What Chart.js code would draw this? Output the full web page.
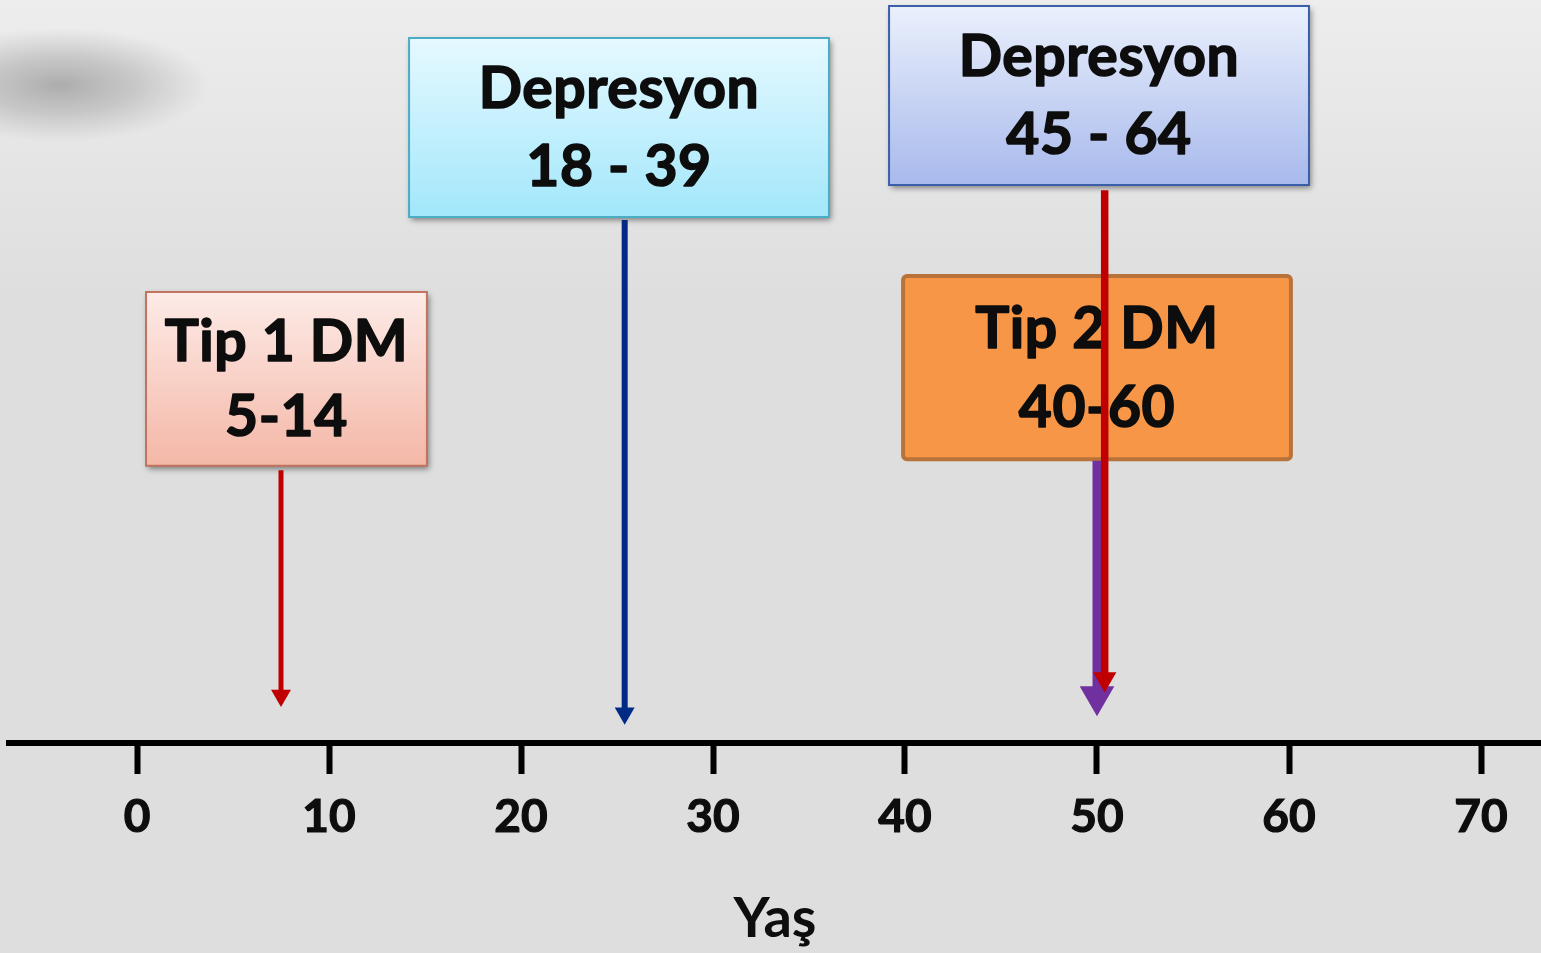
<!DOCTYPE html>
<html>
<head>
<meta charset="utf-8">
<script src="https://cdn.jsdelivr.net/npm/chart.js@4.4.0/dist/chart.umd.min.js"></script>
<style>
  html, body { margin: 0; padding: 0; background: #dedede; }
  #wrap { width: 1541px; height: 953px; }
</style>
</head>
<body>
<div id="wrap"><canvas id="timeline"></canvas></div>
<script>
// values
const tickValues = [0, 10, 20, 30, 40, 50, 60, 70];
const axisTitle = 'Yaş';
const boxLabels = [
    ['Tip 1 DM', '5-14'],
    ['Depresyon', '18 - 39'],
    ['Depresyon', '45 - 64'],
    ['Tip 2 DM', '40-60']
];
// arrows: age where they point, top of the shaft and head position (height above the axis, 0-100)
const arrowAges = [7.5, 25.4, 50.4, 50.0];
const arrowTops = [36.7, 70.4, 74.4, 38.0];
const arrowEnds = [6.4, 4.0, 8.6, 6.3];

// layout and look of the boxes (x in age units, y in height units)
const boxFrames = [
    { x0: 0.47, x1: 15.1, y0: 60.7, y1: 37.3, top: '#fdebe7', bottom: '#f4b7a7', border: '#c0735f', bw: 2, shadow: true },
    { x0: 14.17, x1: 36.04, y0: 94.9, y1: 70.8, top: '#e6f9ff', bottom: '#a2e7fb', border: '#4bacc6', bw: 2, shadow: true },
    { x0: 39.17, x1: 61.04, y0: 99.2, y1: 75.1, top: '#eaf0fc', bottom: '#a8b9ec', border: '#3a5ea8', bw: 2, shadow: true },
    { x0: 39.9, x1: 60.1, y0: 62.85, y1: 38.2, top: '#f79646', bottom: '#f79646', border: '#b8733a', bw: 4, shadow: false }
];
const arrowColors = ['#c00000', '#002b85', '#c00000', '#7030a0'];
const arrowWidths = [5, 6, 7.5, 9];
const arrowHeads = [11.5, 11.5, 13.5, 20];
const arrowOrder = [2, 2, 0, 1];

const FONT = 'Lato, "Open Sans", sans-serif';

const backgroundPlugin = {
    id: 'slideBackground',
    beforeDraw(chart) {
        const { ctx, width, height } = chart;
        ctx.save();
        const g = ctx.createLinearGradient(0, 0, 0, 300);
        g.addColorStop(0, '#ededed');
        g.addColorStop(1, '#dedede');
        ctx.fillStyle = g;
        ctx.fillRect(0, 0, width, height);
        // blurred dark smudge in the top left corner
        ctx.translate(60, 85);
        ctx.scale(1, 0.38);
        const r = ctx.createRadialGradient(0, 0, 0, 0, 0, 150);
        r.addColorStop(0, 'rgba(140,140,140,0.65)');
        r.addColorStop(0.5, 'rgba(150,150,150,0.4)');
        r.addColorStop(1, 'rgba(160,160,160,0)');
        ctx.fillStyle = r;
        ctx.beginPath();
        ctx.arc(0, 0, 150, 0, Math.PI * 2);
        ctx.fill();
        ctx.restore();
    }
};

// heavier text, closer to the slide's bold face
const boldText = (ctx, text, x, y) => {
    ctx.fillText(text, x, y);
    ctx.strokeText(text, x, y);
};

const boxPlugin = {
    id: 'labelBoxes',
    beforeDatasetsDraw(chart) {
        const { ctx, scales: { x, y } } = chart;
        boxFrames.forEach((f, i) => {
            const l = x.getPixelForValue(f.x0), r = x.getPixelForValue(f.x1);
            const t = y.getPixelForValue(f.y0), b = y.getPixelForValue(f.y1);
            ctx.save();
            const g = ctx.createLinearGradient(0, t, 0, b);
            g.addColorStop(0, f.top);
            g.addColorStop(1, f.bottom);
            if (f.shadow) {
                ctx.shadowColor = 'rgba(0,0,0,0.45)';
                ctx.shadowBlur = 6;
                ctx.shadowOffsetX = 2;
                ctx.shadowOffsetY = 3;
            }
            ctx.fillStyle = g;
            ctx.beginPath();
            ctx.roundRect(l, t, r - l, b - t, f.shadow ? 0 : 4);
            ctx.fill();
            ctx.shadowColor = 'transparent';
            ctx.lineWidth = f.bw;
            ctx.strokeStyle = f.border;
            ctx.stroke();

            ctx.fillStyle = '#0d0d0d';
            ctx.strokeStyle = '#0d0d0d';
            ctx.lineWidth = 1.6;
            ctx.lineJoin = 'round';
            ctx.font = 'bold 57px ' + FONT;
            ctx.letterSpacing = '0.6px';
            ctx.textAlign = 'center';
            ctx.textBaseline = 'middle';
            const cx = (l + r) / 2, h = b - t;
            boldText(ctx, boxLabels[i][0], cx, t + h * 0.29);
            boldText(ctx, boxLabels[i][1], cx, t + h * 0.725);
            ctx.restore();
        });
    }
};

const datasets = arrowAges.map((age, i) => ({
    type: 'line',
    data: [{ x: age, y: arrowTops[i] }, { x: age, y: arrowEnds[i] }],
    borderColor: arrowColors[i],
    borderWidth: arrowWidths[i],
    borderCapStyle: 'butt',
    pointStyle: 'triangle',
    rotation: 180,
    pointRadius: [0, arrowHeads[i]],
    pointBackgroundColor: arrowColors[i],
    pointBorderWidth: 0,
    order: arrowOrder[i],
    clip: false
}));

new Chart(document.getElementById('timeline'), {
    type: 'line',
    data: { datasets },
    plugins: [backgroundPlugin, boxPlugin],
    options: {
        responsive: true,
        maintainAspectRatio: false,
        animation: false,
        events: [],
        layout: { autoPadding: false, padding: { left: 9, right: 0, top: 0, bottom: 0 } },
        plugins: { legend: { display: false }, tooltip: { enabled: false } },
        scales: {
            x: {
                type: 'linear',
                min: -128 / 19.2,
                max: 1404 / 19.2,
                afterBuildTicks: (scale) => { scale.ticks = tickValues.map(v => ({ value: v })); },
                grid: { drawOnChartArea: false, drawTicks: true, tickLength: 31, tickWidth: 6, tickColor: '#000' },
                border: { display: true, width: 6, color: '#000' },
                ticks: {
                    color: '#0d0d0d',
                    textStrokeColor: '#0d0d0d',
                    textStrokeWidth: 1.2,
                    padding: 16,
                    maxRotation: 0,
                    font: { family: FONT, size: 46, weight: 'bold' }
                },
                title: {
                    display: true,
                    text: axisTitle,
                    color: '#0d0d0d',
                    padding: { top: 24.6, bottom: 0 },
                    font: { family: FONT, size: 56, weight: 'bold' }
                }
            },
            y: { type: 'linear', display: false, min: 0, max: 100 }
        }
    }
});
</script>
</body>
</html>
